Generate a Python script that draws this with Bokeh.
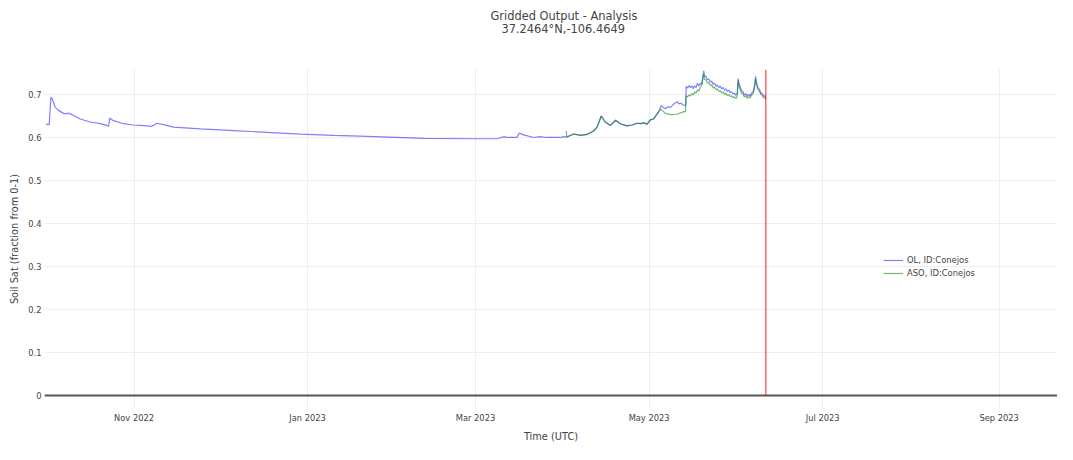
import pandas as pd
from bokeh.plotting import figure
from bokeh.models import (Range1d, FixedTicker, DatetimeTickFormatter, NumeralTickFormatter,
                          Span, Title, Legend, ColumnDataSource)
from bokeh.embed import file_html
from bokeh.resources import INLINE

# ---------------- data ----------------
title_line1 = "Gridded Output - Analysis"
title_line2 = "37.2464°N,-106.4649"
x_label = "Time (UTC)"
y_label = "Soil Sat (fraction from 0-1)"
ol_name = "OL, ID:Conejos"
aso_name = "ASO, ID:Conejos"

ol_dates = [
    "2022-10-01 00:00", "2022-10-02 05:00", "2022-10-02 19:00", "2022-10-03 07:00", "2022-10-03 17:00",
    "2022-10-04 07:00", "2022-10-05 12:00", "2022-10-07 05:00", "2022-10-08 10:00", "2022-10-08 19:00",
    "2022-10-10 05:00", "2022-10-13 02:00", "2022-10-16 14:00", "2022-10-20 02:00", "2022-10-22 12:00",
    "2022-10-23 02:00", "2022-10-23 10:00", "2022-10-24 19:00", "2022-10-28 07:00", "2022-10-31 19:00",
    "2022-11-03 05:00", "2022-11-05 14:00", "2022-11-07 07:00", "2022-11-09 02:00", "2022-11-11 10:00",
    "2022-11-14 22:00", "2022-11-24 07:00", "2022-12-06 00:00", "2022-12-17 17:00", "2022-12-29 10:00",
    "2023-01-10 02:00", "2023-01-19 12:00", "2023-02-11 00:00", "2023-02-28 07:00", "2023-03-08 14:00",
    "2023-03-11 02:00", "2023-03-12 02:00", "2023-03-15 14:00", "2023-03-16 07:00", "2023-03-17 22:00",
    "2023-03-21 10:00", "2023-03-23 19:00", "2023-03-26 02:00", "2023-03-30 19:00", "2023-04-01 00:00",
    "2023-04-02 02:00", "2023-04-04 12:00", "2023-04-06 22:00", "2023-04-09 05:00", "2023-04-11 12:00",
    "2023-04-12 17:00", "2023-04-14 05:00", "2023-04-15 14:00", "2023-04-17 10:00", "2023-04-19 05:00",
    "2023-04-20 22:00", "2023-04-23 07:00", "2023-04-25 00:00", "2023-04-26 19:00", "2023-04-27 22:00",
    "2023-04-29 02:00", "2023-04-30 07:00", "2023-05-01 11:00", "2023-05-02 14:00", "2023-05-04 10:00",
    "2023-05-05 05:00", "2023-05-06 17:00", "2023-05-07 12:00", "2023-05-08 12:00", "2023-05-09 14:00",
    "2023-05-10 19:00", "2023-05-11 12:00", "2023-05-12 00:00", "2023-05-13 05:00", "2023-05-13 19:00",
    "2023-05-14 02:00", "2023-05-14 12:00", "2023-05-15 00:00", "2023-05-15 12:00", "2023-05-16 00:00",
    "2023-05-16 12:00", "2023-05-17 00:00", "2023-05-17 12:00", "2023-05-18 00:00", "2023-05-18 12:00",
    "2023-05-19 00:00", "2023-05-19 12:00", "2023-05-20 05:00", "2023-05-20 12:00", "2023-05-21 00:00",
    "2023-05-21 12:00", "2023-05-22 00:00", "2023-05-22 12:00", "2023-05-23 00:00", "2023-05-23 12:00",
    "2023-05-24 00:00", "2023-05-24 12:00", "2023-05-25 00:00", "2023-05-25 12:00", "2023-05-26 00:00",
    "2023-05-26 12:00", "2023-05-27 00:00", "2023-05-27 12:00", "2023-05-28 00:00", "2023-05-28 12:00",
    "2023-05-29 00:00", "2023-05-29 12:00", "2023-05-30 00:00", "2023-05-30 12:00", "2023-05-31 00:00",
    "2023-05-31 12:00", "2023-06-01 00:00", "2023-06-01 07:00", "2023-06-01 12:00", "2023-06-02 00:00",
    "2023-06-02 12:00", "2023-06-03 00:00", "2023-06-03 12:00", "2023-06-04 00:00", "2023-06-04 12:00",
    "2023-06-05 00:00", "2023-06-05 12:00", "2023-06-06 00:00", "2023-06-06 12:00", "2023-06-07 00:00",
    "2023-06-07 10:00", "2023-06-07 18:00", "2023-06-08 06:00", "2023-06-08 18:00", "2023-06-09 06:00",
    "2023-06-09 18:00", "2023-06-10 06:00", "2023-06-10 18:00", "2023-06-11 00:00",
]
ol_values = [
    0.631, 0.630, 0.694, 0.689, 0.682,
    0.670, 0.663, 0.656, 0.655, 0.657,
    0.653, 0.643, 0.636, 0.632, 0.628,
    0.626, 0.645, 0.639, 0.632, 0.629,
    0.628, 0.627, 0.626, 0.633, 0.630,
    0.624, 0.620, 0.616, 0.612, 0.608,
    0.605, 0.603, 0.598, 0.597, 0.597,
    0.602, 0.600, 0.600, 0.610, 0.606,
    0.600, 0.602, 0.600, 0.600, 0.602,
    0.601, 0.608, 0.605, 0.607, 0.615,
    0.624, 0.650, 0.636, 0.628, 0.640,
    0.632, 0.627, 0.629, 0.633, 0.632,
    0.634, 0.631, 0.641, 0.643, 0.660,
    0.674, 0.667, 0.671, 0.670, 0.677,
    0.683, 0.678, 0.680, 0.675, 0.674,
    0.719, 0.715, 0.721, 0.716, 0.720,
    0.713, 0.720, 0.716, 0.726, 0.720,
    0.726, 0.724, 0.755, 0.742, 0.742,
    0.734, 0.736, 0.729, 0.731, 0.724,
    0.726, 0.719, 0.722, 0.716, 0.719,
    0.713, 0.716, 0.710, 0.713, 0.707,
    0.710, 0.704, 0.706, 0.701, 0.703,
    0.698, 0.704, 0.737, 0.728, 0.718,
    0.708, 0.706, 0.699, 0.702, 0.696,
    0.700, 0.696, 0.703, 0.706, 0.718,
    0.742, 0.728, 0.716, 0.712, 0.704,
    0.702, 0.696, 0.697, 0.693,
]

aso_dates = [
    "2023-04-01 22:00", "2023-04-02 02:00", "2023-04-04 12:00", "2023-04-06 22:00", "2023-04-09 05:00",
    "2023-04-11 12:00", "2023-04-12 17:00", "2023-04-14 05:00", "2023-04-15 14:00", "2023-04-17 10:00",
    "2023-04-19 05:00", "2023-04-20 22:00", "2023-04-23 07:00", "2023-04-25 00:00", "2023-04-26 19:00",
    "2023-04-27 22:00", "2023-04-29 02:00", "2023-04-30 07:00", "2023-05-01 11:00", "2023-05-02 14:00",
    "2023-05-04 10:00", "2023-05-05 05:00", "2023-05-06 17:00", "2023-05-08 12:00", "2023-05-10 19:00",
    "2023-05-13 05:00", "2023-05-13 19:00",
    "2023-05-14 02:00", "2023-05-14 12:00", "2023-05-15 00:00", "2023-05-15 12:00", "2023-05-16 00:00",
    "2023-05-16 12:00", "2023-05-17 00:00", "2023-05-17 12:00", "2023-05-18 00:00", "2023-05-18 12:00",
    "2023-05-19 00:00", "2023-05-19 12:00", "2023-05-20 05:00", "2023-05-20 12:00", "2023-05-21 00:00",
    "2023-05-21 12:00", "2023-05-22 00:00", "2023-05-22 12:00", "2023-05-23 00:00", "2023-05-23 12:00",
    "2023-05-24 00:00", "2023-05-24 12:00", "2023-05-25 00:00", "2023-05-25 12:00", "2023-05-26 00:00",
    "2023-05-26 12:00", "2023-05-27 00:00", "2023-05-27 12:00", "2023-05-28 00:00", "2023-05-28 12:00",
    "2023-05-29 00:00", "2023-05-29 12:00", "2023-05-30 00:00", "2023-05-30 12:00", "2023-05-31 00:00",
    "2023-05-31 12:00", "2023-06-01 00:00", "2023-06-01 07:00", "2023-06-01 12:00", "2023-06-02 00:00",
    "2023-06-02 12:00", "2023-06-03 00:00", "2023-06-03 12:00", "2023-06-04 00:00", "2023-06-04 12:00",
    "2023-06-05 00:00", "2023-06-05 12:00", "2023-06-06 00:00", "2023-06-06 12:00", "2023-06-07 00:00",
    "2023-06-07 10:00", "2023-06-07 18:00", "2023-06-08 06:00", "2023-06-08 18:00", "2023-06-09 06:00",
    "2023-06-09 18:00", "2023-06-10 06:00", "2023-06-10 18:00", "2023-06-11 00:00",
]
aso_values = [
    0.615, 0.601, 0.608, 0.605, 0.607,
    0.615, 0.624, 0.650, 0.636, 0.628,
    0.640, 0.632, 0.627, 0.629, 0.633,
    0.632, 0.634, 0.631, 0.641, 0.643,
    0.660, 0.666, 0.656, 0.653, 0.654,
    0.660, 0.660,
    0.697, 0.694, 0.699, 0.696, 0.702,
    0.699, 0.706, 0.703, 0.711, 0.708,
    0.716, 0.722, 0.747, 0.735, 0.734,
    0.727, 0.728, 0.721, 0.722, 0.715,
    0.717, 0.711, 0.713, 0.707, 0.709,
    0.703, 0.706, 0.700, 0.703, 0.697,
    0.700, 0.695, 0.697, 0.692, 0.695,
    0.690, 0.697, 0.732, 0.722, 0.712,
    0.703, 0.701, 0.694, 0.697, 0.691,
    0.695, 0.692, 0.699, 0.701, 0.713,
    0.736, 0.723, 0.712, 0.708, 0.700,
    0.698, 0.692, 0.693, 0.689,
]

analysis_time = "2023-06-11 00:00"
month_ticks = ["2022-11-01", "2023-01-01", "2023-03-01", "2023-05-01", "2023-07-01", "2023-09-01"]
y_ticks = [0, 0.1, 0.2, 0.3, 0.4, 0.5, 0.6, 0.7]

# ---------------- figure ----------------
FONT = "DejaVu Sans"
TXT = "#444444"

x_start = pd.Timestamp("2022-09-30 13:00")
x_end = pd.Timestamp("2023-09-21 12:30")
y_start, y_end = -0.030, 0.758

p = figure(width=1057, height=444, output_backend="svg", toolbar_location=None,
           x_axis_type="datetime",
           x_range=Range1d(start=x_start, end=x_end),
           y_range=Range1d(start=y_start, end=y_end),
           min_border_left=44, min_border_right=0, min_border_top=69, min_border_bottom=36)
p.title = None
p.outline_line_color = None
p.background_fill_color = "white"
p.border_fill_color = "white"

def ms(t):
    return pd.Timestamp(t).value / 1e6

# axes
p.xaxis.ticker = FixedTicker(ticks=[ms(t) for t in month_ticks])
p.xaxis.formatter = DatetimeTickFormatter(days="%b %Y", months="%b %Y", years="%b %Y",
                                          hours="%b %Y", hourmin="%b %Y")
p.yaxis.ticker = FixedTicker(ticks=y_ticks)
p.yaxis.formatter = NumeralTickFormatter(format="0.[0]")

for ax in (p.xaxis[0], p.yaxis[0]):
    ax.axis_line_color = None
    ax.major_tick_line_color = None
    ax.minor_tick_line_color = None
    ax.major_tick_out = 0
    ax.major_tick_in = 0
    ax.minor_tick_out = 0
    ax.minor_tick_in = 0
    ax.major_label_text_font = FONT
    ax.major_label_text_font_size = "8.3px"
    ax.major_label_text_color = TXT
    ax.axis_label_text_font = FONT
    ax.axis_label_text_font_size = "9.8px"
    ax.axis_label_text_color = TXT
    ax.axis_label_text_font_style = "normal"

p.xaxis.axis_label = x_label
p.yaxis.axis_label = y_label
p.xaxis.major_label_standoff = 4
p.xaxis.axis_label_standoff = 5
p.yaxis.major_label_standoff = 3
p.yaxis.axis_label_standoff = 5

p.xgrid.grid_line_color = "#eeeeee"
p.ygrid.grid_line_color = "#eeeeee"
p.xgrid.grid_line_width = 1
p.ygrid.grid_line_width = 1

# zero line
p.add_layout(Span(location=0, dimension="width", line_color="#555555", line_width=2))

# series
src_ol = ColumnDataSource(dict(x=pd.to_datetime(ol_dates), y=ol_values))
src_aso = ColumnDataSource(dict(x=pd.to_datetime(aso_dates), y=aso_values))
r_ol = p.line("x", "y", source=src_ol, line_color="#0000ff", line_alpha=0.5, line_width=1.2)
r_aso = p.line("x", "y", source=src_aso, line_color="#008000", line_alpha=0.55, line_width=1.2)

# analysis time marker
p.segment(x0=[pd.Timestamp(analysis_time)], y0=[0], x1=[pd.Timestamp(analysis_time)], y1=[y_end],
          line_color="red", line_alpha=0.6, line_width=1.5)

# legend
legend = Legend(items=[(ol_name, [r_ol]), (aso_name, [r_aso])], location=(839, 129),
                padding=0, margin=0, spacing=1, glyph_width=20, glyph_height=12,
                label_height=12, label_standoff=4,
                label_text_font=FONT, label_text_font_size="8.4px", label_text_color=TXT,
                background_fill_alpha=0, border_line_alpha=0)
p.add_layout(legend)

# two-line title above the frame: an empty spacer panel next to the frame,
# then line 2, then line 1 (panels stack upward from the frame)
title_style = dict(text_font=FONT, text_font_size="11.4px", text_color=TXT,
                   text_font_style="normal")
spacer = Title(text=" ", align="left", standoff=18, **title_style)
t2 = Title(text=title_line2, align="left", offset=457, standoff=0, **title_style)
t1 = Title(text=title_line1, align="left", offset=446, standoff=-6, **title_style)
p.add_layout(spacer, "above")
p.add_layout(t2, "above")
p.add_layout(t1, "above")

open("out.html", "w").write(file_html(p, INLINE))
